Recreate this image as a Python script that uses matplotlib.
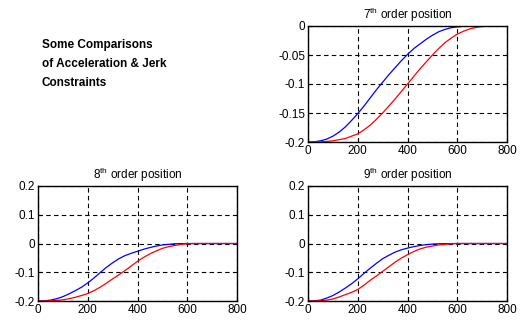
import numpy as np
import matplotlib.pyplot as plt

plt.rcParams['font.family'] = ['Liberation Sans', 'DejaVu Sans']
plt.rcParams['mathtext.fontset'] = 'custom'
plt.rcParams['mathtext.rm'] = 'Liberation Sans'

# sample positions (x) shared by all curves, 0..800 step 25
t = list(range(0, 825, 25))

# 7th order position
blue7 = [-0.2, -0.1997, -0.198, -0.195, -0.190, -0.183, -0.174, -0.163, -0.151, -0.138,
         -0.124, -0.110, -0.097, -0.084, -0.072, -0.060, -0.049, -0.039, -0.031, -0.023,
         -0.016, -0.010, -0.006, -0.003, -0.0015, -0.0006, -0.0002, 0.0, 0.0, 0.0,
         0.0, 0.0, 0.0]
red7 = [-0.2, -0.2, -0.1997, -0.199, -0.198, -0.196, -0.194, -0.190, -0.186, -0.179,
        -0.171, -0.161, -0.150, -0.138, -0.126, -0.113, -0.100, -0.087, -0.074, -0.062,
        -0.050, -0.039, -0.029, -0.021, -0.014, -0.009, -0.005, -0.0025, -0.001, -0.0003,
        0.0, 0.0, 0.0]

# 8th order position
blue8 = [-0.2, -0.1995, -0.197, -0.192, -0.185, -0.175, -0.164, -0.152, -0.137, -0.120,
         -0.101, -0.083, -0.067, -0.053, -0.042, -0.034, -0.027, -0.020, -0.014, -0.009,
         -0.005, -0.003, -0.001, -0.0004, 0.0, 0.0, 0.0, 0.0, 0.0, 0.0,
         0.0, 0.0, 0.0]
red8 = [-0.2, -0.2, -0.1993, -0.198, -0.196, -0.192, -0.187, -0.181, -0.174, -0.164,
        -0.152, -0.138, -0.123, -0.109, -0.094, -0.078, -0.062, -0.048, -0.036, -0.026,
        -0.017, -0.011, -0.007, -0.003, -0.001, -0.0003, 0.0, 0.0, 0.0, 0.0,
        0.0, 0.0, 0.0]

# 9th order position
blue9 = [-0.2, -0.1995, -0.197, -0.190, -0.181, -0.169, -0.155, -0.140, -0.123, -0.104,
         -0.086, -0.069, -0.053, -0.041, -0.030, -0.022, -0.016, -0.011, -0.007, -0.004,
         -0.002, -0.001, -0.0005, -0.0002, 0.0, 0.0, 0.0, 0.0, 0.0, 0.0,
         0.0, 0.0, 0.0]
red9 = [-0.2, -0.2, -0.1993, -0.197, -0.193, -0.186, -0.178, -0.170, -0.160, -0.145,
        -0.128, -0.113, -0.097, -0.081, -0.065, -0.051, -0.039, -0.028, -0.019, -0.013,
        -0.009, -0.005, -0.003, -0.001, 0.0, 0.0, 0.0, 0.0, 0.0, 0.0,
        0.0, 0.0, 0.0]

orders = ['7', '8', '9']
xticks = [0, 200, 400, 600, 800]
yticks7 = [-0.2, -0.15, -0.1, -0.05, 0]
ylabels7 = ['-0.2', '-0.15', '-0.1', '-0.05', '0']
yticks89 = [-0.2, -0.1, 0, 0.1, 0.2]
ylabels89 = ['-0.2', '-0.1', '0', '0.1', '0.2']

fig = plt.figure(figsize=(5.21, 3.22), dpi=100)
W, H = 521, 322

def make_axes(l, r, top, bot):
    return fig.add_axes([l / W, 1 - bot / H, (r - l) / W, (bot - top) / H])

ax7 = make_axes(308, 507, 26, 142)
ax8 = make_axes(38, 237, 186, 301)
ax9 = make_axes(308, 507, 186, 301)

panels = [(ax7, blue7, red7, orders[0], (-0.2, 0), yticks7, ylabels7),
          (ax8, blue8, red8, orders[1], (-0.2, 0.2), yticks89, ylabels89),
          (ax9, blue9, red9, orders[2], (-0.2, 0.2), yticks89, ylabels89)]

for ax, b, r, o, ylim, yt, ytl in panels:
    ax.plot(t, b, color='#0000ff', lw=0.9)
    ax.plot(t, r, color='#ff0000', lw=0.9)
    ax.set_xlim(0, 800)
    ax.set_ylim(*ylim)
    ax.set_xticks(xticks)
    ax.set_yticks(yt)
    ax.set_yticklabels(ytl)
    ax.grid(True, color='black', linestyle=(0, (4, 3)), linewidth=0.8)
    ax.tick_params(direction='in', length=3, labelsize=8.5, pad=2, colors='black')
    for s in ax.spines.values():
        s.set_linewidth(1.0)
        s.set_color('black')
    ax.set_title(o + r'$^{\mathrm{th}}$ order position', fontsize=8.5, pad=5)

fig.text(42 / W, 1 - 64 / H,
         'Some Comparisons\nof Acceleration & Jerk\nConstraints',
         fontsize=8.5, fontweight='bold', va='center', ha='left', linespacing=1.76)

fig.savefig('out.png', dpi=100)
